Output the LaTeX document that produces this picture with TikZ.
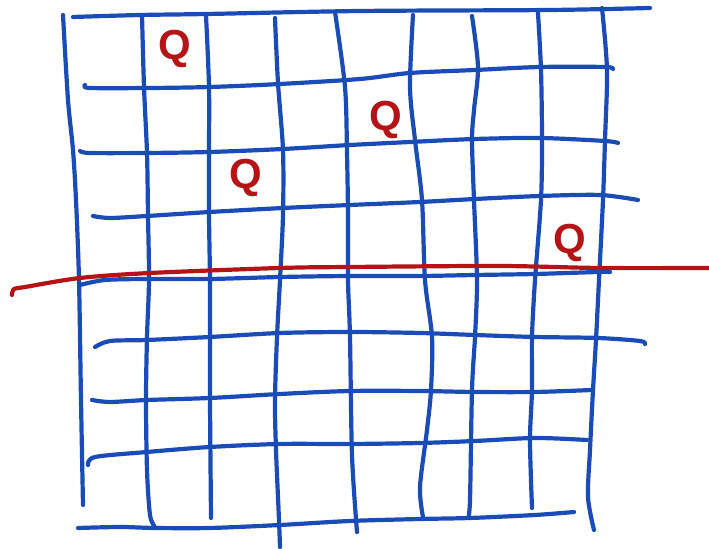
\documentclass[tikz,border=0pt]{standalone}
\usepackage{fontspec}
\setmainfont{Liberation Sans}
\definecolor{inkblue}{RGB}{26,76,184}
\definecolor{inkred}{RGB}{180,20,22}
\begin{document}
\begin{tikzpicture}[x=0.5pt, y=-0.5pt,
        bluepen/.style = {draw = inkblue, line width = 2.1pt, line cap = round, line join = round},
        redpen/.style  = {draw = inkred, line width = 2.1pt, line cap = round, line join = round},
        queen/.style   = {text = inkred, inner sep = 0pt, font = \fontsize{21}{21}\selectfont\bfseries}]
        \useasboundingbox (0,0) rectangle (709,549);

        % columns
        \draw[bluepen] plot[smooth] coordinates {(63,15) (68,100) (73,150) (76,200) (79,280) (81,400) (83,505)};
        \draw[bluepen] plot[smooth] coordinates {(142,15) (144,87) (147,153) (148,215) (149,280) (147,337) (146,400) (147,470) (150,515) (155,527)};
        \draw[bluepen] plot[smooth] coordinates {(206,15) (209,87) (209,153) (209,215) (210,280) (210,337) (210,400) (211,518)};
        \draw[bluepen] plot[smooth] coordinates {(275,18) (278,83) (283,150) (283,215) (280,280) (277,337) (275,400) (276,450) (279,520) (280,547)};
        \draw[bluepen] plot[smooth] coordinates {(335,12) (345,87) (347,153) (348,215) (348,280) (350,337) (352,455) (357,532)};
        \draw[bluepen] plot[smooth] coordinates {(413,15) (410,87) (415,140) (422,200) (425,280) (432,337) (431,390) (427,430) (420,487) (423,517)};
        \draw[bluepen] plot[smooth] coordinates {(472,16) (478,67) (474,110) (472,140) (474,200) (477,280) (475,337) (472,390) (470,500) (468,518)};
        \draw[bluepen] plot[smooth] coordinates {(538,13) (541,70) (542,140) (541,200) (535,280) (532,337) (532,390) (530,440) (532,508)};
        \draw[bluepen] plot[smooth] coordinates {(602,8) (607,70) (605,140) (603,200) (599,280) (596,340) (593,390) (590,450) (588,497) (594,530)};

        % rows
        \draw[bluepen] plot[smooth] coordinates {(73,17) (140,15) (207,14) (360,11) (550,10) (650,8)};
        \draw[bluepen] plot[smooth] coordinates {(85,85) (90,88) (150,88) (210,87) (280,84) (360,79) (410,73) (475,70) (540,67) (605,67) (613,69)};
        \draw[bluepen] plot[smooth] coordinates {(80,151) (90,153) (147,153) (210,152) (283,149) (350,145) (410,142) (475,139) (540,138) (605,141) (618,143)};
        \draw[bluepen] plot[smooth] coordinates {(93,216) (110,218) (147,216) (210,212) (283,208) (350,205) (420,202) (475,199) (540,196) (600,195) (638,200)};
        \draw[bluepen] plot[smooth] coordinates {(80,285) (105,280) (147,279) (210,279) (280,277) (350,276) (420,276) (475,275) (535,274) (598,272) (610,272)};
        \draw[bluepen] plot[smooth] coordinates {(95,347) (110,341) (147,340) (210,337) (280,333) (350,332) (420,333) (475,335) (535,337) (598,338) (640,341) (645,344)};
        \draw[bluepen] plot[smooth] coordinates {(92,400) (110,402) (147,400) (210,398) (280,394) (350,391) (420,391) (475,392) (535,392) (592,390)};
        \draw[bluepen] plot[smooth] coordinates {(88,465) (95,457) (147,452) (210,447) (280,444) (350,444) (420,443) (475,441) (535,438) (587,440)};
        \draw[bluepen] plot[smooth] coordinates {(78,528) (120,527) (155,528) (210,528) (280,525) (350,521) (420,519) (470,518) (535,515) (574,512)};

        % cut line
        \draw[redpen] plot[smooth] coordinates {(12,295) (14,289) (25,287) (80,278) (150,273) (280,268) (350,267) (500,266) (600,268) (709,268)};

        % queens
        \node[queen] (q1) at (175,49)  {Q};
        \node[queen] (q2) at (386,120) {Q};
        \node[queen] (q3) at (246,178) {Q};
        \node[queen] (q4) at (570,243) {Q};
\end{tikzpicture}
\end{document}
